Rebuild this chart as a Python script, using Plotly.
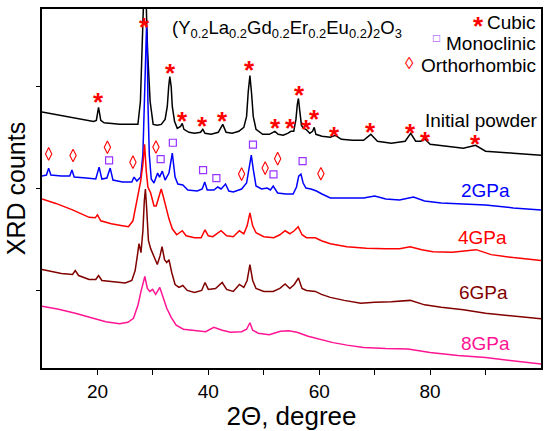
import plotly.graph_objects as go

# XRD patterns of (Y0.2La0.2Gd0.2Er0.2Eu0.2)2O3 after compression
# 2-theta in degrees, counts in arbitrary units (curves stacked with offsets)
initial_x = [10.0, 14.5, 19.3, 19.8, 20.2, 20.6, 21.2, 24.0, 26.5, 27.3,
             27.75, 28.1, 28.35, 28.55, 28.8, 29.05, 29.5, 30.05, 30.8, 31.5,
             32.2, 32.6, 32.85, 33.05, 33.3, 33.5, 33.9, 34.4, 35.0, 35.3,
             35.6, 36.5, 37.5, 38.6, 39.0, 39.4, 40.5, 41.8, 42.6, 43.2,
             44.3, 45.5, 46.4, 46.9, 47.2, 47.5, 47.8, 48.1, 48.6, 49.8,
             51.0, 52.0, 52.6, 53.5, 54.3, 54.9, 55.4, 55.8, 56.05, 56.25,
             56.5, 56.8, 57.2, 57.6, 58.3, 58.8, 59.1, 59.4, 60.5, 62.0,
             62.9, 64.0, 66.0, 68.0, 69.3, 70.5, 73.0, 75.5, 76.5, 77.4,
             78.3, 79.1, 80.0, 83.0, 86.0, 88.2, 90.0, 95.0, 100.0]
initial_y = [2575, 2530, 2480, 2490, 2620, 2490, 2465, 2450, 2450, 2450,
             2680, 3180, 3650, 4100, 3650, 3180, 2680, 2450, 2440, 2450,
             2500, 2630, 2830, 2930, 2830, 2630, 2480, 2410, 2430, 2460,
             2400, 2370, 2360, 2370, 2400, 2360, 2350, 2370, 2450, 2370,
             2360, 2380, 2420, 2530, 2780, 2940, 2760, 2530, 2400, 2350,
             2350, 2380, 2350, 2340, 2360, 2380, 2380, 2500, 2650, 2710,
             2580, 2440, 2410, 2400, 2360, 2380, 2420, 2350, 2330, 2320,
             2340, 2300, 2290, 2290, 2350, 2280, 2260, 2280, 2360, 2280,
             2280, 2300, 2250, 2230, 2210, 2240, 2180, 2160, 2140]

gpa2_x = [10.0, 10.8, 11.2, 11.6, 13.5, 15.0, 15.4, 15.8, 18.0, 19.7,
          20.3, 20.8, 21.7, 22.3, 22.8, 24.5, 26.2, 26.6, 27.1, 27.8,
          28.2, 28.45, 28.7, 28.85, 29.0, 29.1, 29.35, 29.7, 30.2, 30.85,
          31.2, 31.7, 32.2, 32.9, 33.5, 34.0, 34.5, 35.4, 36.3, 38.0,
          38.9, 39.35, 39.8, 41.0, 41.7, 42.3, 43.1, 43.7, 44.5, 46.0,
          46.9, 47.4, 47.75, 48.1, 48.6, 49.6, 50.6, 51.2, 51.7, 52.5,
          54.0, 55.3, 55.9, 56.3, 56.7, 57.1, 57.6, 58.5, 59.5, 60.5,
          62.0, 65.0, 68.0, 70.0, 72.0, 74.5, 77.0, 79.0, 82.0, 86.0,
          90.0, 95.0, 100.0]
gpa2_y = [1930, 1940, 2010, 1940, 1930, 1930, 1990, 1920, 1910, 1900,
          2020, 1900, 1910, 2010, 1890, 1870, 1870, 1920, 1880, 1920,
          2150, 2680, 3200, 3430, 3200, 2680, 2150, 1900, 1860, 1960,
          1920, 1980, 1890, 1960, 2160, 1920, 1850, 1840, 1790, 1780,
          1800, 1870, 1790, 1790, 1820, 1800, 1850, 1780, 1770, 1800,
          1860, 2030, 2140, 2000, 1830, 1800, 1810, 1790, 1830, 1760,
          1750, 1750, 1820, 1930, 1950, 1860, 1810, 1800, 1780, 1750,
          1710, 1710, 1710, 1730, 1700, 1690, 1720, 1680, 1660, 1650,
          1640, 1610, 1590]

gpa4_x = [10.0, 12.5, 15.5, 18.5, 19.6, 20.0, 20.6, 22.5, 24.5, 25.6,
          26.4, 26.9, 27.4, 27.8, 28.2, 28.5, 28.8, 29.1, 29.6, 30.2,
          30.6, 31.1, 31.5, 31.9, 32.4, 32.9, 33.5, 34.3, 35.3, 36.0,
          37.5, 38.7, 39.4, 40.0, 40.8, 42.3, 43.3, 44.5, 45.6, 46.4,
          47.0, 47.5, 48.0, 48.6, 50.0, 51.8, 52.9, 53.85, 54.7, 55.5,
          56.2, 56.9, 57.7, 59.3, 60.4, 62.0, 65.0, 68.5, 72.0, 74.5,
          76.4, 78.5, 80.5, 84.0, 88.3, 91.0, 95.0, 100.0]
gpa4_y = [1700, 1655, 1590, 1515, 1510, 1540, 1480, 1450, 1430, 1420,
          1480, 1630, 1750, 1880, 2050, 2250, 1980, 1820, 1760, 1630,
          1630, 1740, 1800, 1720, 1600, 1500, 1400, 1340, 1380, 1330,
          1310, 1310, 1390, 1330, 1320, 1380, 1330, 1320, 1380, 1350,
          1430, 1560, 1430, 1360, 1320, 1310, 1340, 1380, 1350, 1380,
          1420, 1340, 1310, 1310, 1280, 1250, 1220, 1205, 1200, 1200,
          1220, 1190, 1170, 1165, 1190, 1140, 1110, 1080]

gpa6_x = [10.0, 13.5, 15.5, 16.0, 16.6, 18.5, 19.7, 20.2, 20.8, 23.0,
          25.0, 26.2, 26.8, 27.2, 27.5, 27.85, 28.2, 28.45, 28.65, 28.85,
          29.2, 29.6, 30.4, 30.8, 31.3, 31.65, 32.1, 32.5, 32.9, 33.4,
          34.0, 34.7, 35.4, 36.2, 37.5, 38.8, 39.4, 40.0, 41.3, 42.5,
          43.3, 44.5, 45.6, 46.4, 47.0, 47.5, 48.0, 48.6, 50.0, 51.7,
          52.9, 53.85, 54.7, 55.5, 56.25, 56.9, 57.7, 59.3, 60.4, 62.0,
          64.5, 67.5, 70.0, 73.0, 76.4, 79.0, 82.0, 86.0, 90.0, 95.0, 100.0]
gpa6_y = [990, 950, 940, 980, 930, 890, 890, 930, 880, 870,
          855, 880, 980, 1130, 1250, 1160, 1380, 1680, 1800, 1630,
          1280, 1200, 1080, 1040, 1130, 1220, 1090, 1060, 1090, 960,
          840, 810, 830, 780, 760, 780, 860, 790, 800, 860,
          790, 770, 840, 810, 880, 1040, 880, 800, 770, 770,
          800, 845, 800, 840, 905, 800, 780, 770, 740, 710,
          680, 650, 660, 665, 680, 635, 610, 585, 550, 520, 495]

gpa8_x = [10.0, 13.0, 16.0, 19.0, 21.5, 24.0, 25.5, 26.5, 27.3, 27.9,
          28.55, 29.0, 29.45, 29.95, 30.5, 31.25, 31.8, 32.5, 33.3, 34.2,
          35.5, 37.5, 39.5, 41.0, 42.5, 44.0, 46.0, 46.9, 47.5, 48.0,
          49.0, 51.0, 53.0, 54.5, 56.0, 58.0, 60.0, 62.5, 65.0, 68.0,
          72.0, 76.0, 80.0, 85.0, 90.0, 95.0, 100.0]
gpa8_y = [620, 590, 550, 500, 465, 445, 460, 500, 630, 780,
          920, 800, 770, 790, 740, 810, 710, 600, 510, 430,
          390, 375, 365, 410, 380, 360, 365, 390, 455, 380,
          350, 335, 370, 375, 360, 320, 290, 255, 230, 205,
          195, 190, 155, 125, 105, 75, 40]

# phase markers
cubic_x = [20.2, 28.55, 33.2, 35.3, 38.9, 42.6, 47.5, 52.2, 54.75, 56.5,
           57.7, 59.2, 62.8, 69.3, 76.5, 79.1, 88.2]
cubic_y = [2707, 3463, 2997, 2513, 2463, 2513, 3030, 2440, 2440, 2773,
           2430, 2530, 2363, 2407, 2397, 2313, 2280]
mono_x = [22.1, 31.4, 33.6, 39.05, 41.45, 48.05, 51.75, 57.0]
mono_y = [2087, 2100, 2265, 1990, 1910, 2247, 1947, 2080]
ortho_x = [11.2, 15.6, 21.8, 26.4, 30.55, 46.0, 50.25, 52.5, 60.3]
ortho_y = [2153, 2137, 2220, 2070, 2223, 1950, 2010, 2105, 1953]

series_names = ["Initial powder", "2GPa", "4GPa", "6GPa", "8GPa"]

FONT = "Liberation Sans, Arial, sans-serif"
RED = "#FF0000"
VIOLET = "#9933FF"

series = [
    (initial_x, initial_y, "#000000"),
    (gpa2_x, gpa2_y, "#0000FF"),
    (gpa4_x, gpa4_y, "#FF0000"),
    (gpa6_x, gpa6_y, "#800000"),
    (gpa8_x, gpa8_y, "#FF1493"),
]
for (xs, ys, _), nm in zip(series, series_names):
    assert len(xs) == len(ys), nm

fig = go.Figure()
for (xs, ys, col), nm in zip(series, series_names):
    fig.add_trace(go.Scatter(x=xs, y=ys, mode="lines", name=nm,
                             line=dict(color=col, width=1.5)))

fig.add_trace(go.Scatter(
    x=mono_x, y=mono_y, mode="markers", name="Monoclinic",
    marker=dict(symbol="square-open", size=7, color=VIOLET, line=dict(width=1.2)),
))
fig.add_trace(go.Scatter(
    x=ortho_x, y=ortho_y, mode="markers", name="Orthorhombic",
    marker=dict(symbol="diamond-tall-open", size=9, color=RED, line=dict(width=1.1)),
))


def note(**kw):
    # always centre unless told otherwise (paper refs otherwise auto-anchor to edges)
    kw.setdefault("xanchor", "center")
    kw.setdefault("yanchor", "middle")
    fig.add_annotation(showarrow=False, **kw)


# cubic peaks: red asterisks (glyph sits high in its box -> shift down)
for cx, cy in zip(cubic_x, cubic_y):
    note(x=cx, y=cy, text="<b>*</b>", yshift=-3,
         font=dict(family=FONT, size=26, color=RED))

# curve labels
label_pos = [(89.25, 2487), (90.0, 1780), (89.5, 1313), (89.7, 757), (89.9, 247)]
for (lx, ly), nm, (_, _, col) in zip(label_pos, series_names, series):
    note(x=lx, y=ly, text=nm, font=dict(family=FONT, size=19, color=col))

# formula
note(xref="paper", yref="paper", x=0.491, y=0.945,
     text="(Y<sub>0.2</sub>La<sub>0.2</sub>Gd<sub>0.2</sub>Er<sub>0.2</sub>"
          "Eu<sub>0.2</sub>)<sub>2</sub>O<sub>3</sub>",
     font=dict(family=FONT, size=18.5, color="black"))

# phase key, top right
key = [("Cubic", 0.962), ("Monoclinic", 0.904), ("Orthorhombic", 0.844)]
for txt, ky in key:
    note(xref="paper", yref="paper", x=0.993, y=ky, xanchor="right", text=txt,
         font=dict(family=FONT, size=19, color="black"))
note(xref="paper", yref="paper", x=0.875, y=0.962, yshift=-3, text="<b>*</b>",
     font=dict(family=FONT, size=26, color=RED))
note(xref="paper", yref="paper", x=0.7914, y=0.9067, yshift=4, text="\u25a1",
     font=dict(family=FONT, size=12, color=VIOLET))
note(xref="paper", yref="paper", x=0.7374, y=0.842, yshift=2, text="\u25ca",
     font=dict(family=FONT, size=17, color=RED))

fig.update_layout(
    width=550, height=431,
    margin=dict(l=42, r=8, t=7, b=63),
    plot_bgcolor="white", paper_bgcolor="white",
    showlegend=False,
    font=dict(family=FONT, color="black"),
    xaxis=dict(
        range=[10, 100], tickvals=[20, 40, 60, 80],
        ticks="outside", ticklen=5, tickwidth=1.2, tickcolor="black",
        minor=dict(tickvals=[30, 50, 70, 90], ticks="outside", ticklen=5,
                   tickwidth=1.2, tickcolor="black"),
        showline=True, mirror=True, linewidth=1.5, linecolor="black",
        showgrid=False, zeroline=False,
        tickfont=dict(size=19),
        title=dict(text="2\u0398, degree", font=dict(size=26), standoff=2),
    ),
    yaxis=dict(
        range=[0, 3610], tickvals=[780, 1805, 2830], showticklabels=False,
        ticks="outside", ticklen=4, tickwidth=1.2, tickcolor="black",
        showline=True, mirror=True, linewidth=1.5, linecolor="black",
        showgrid=False, zeroline=False,
        title=dict(text="XRD counts", font=dict(size=25), standoff=4),
    ),
)

# page body has a default 8px margin; drop it so the chart sits at the corner
fig.write_html("out.html", config={"displayModeBar": False},
               post_script="document.body.style.margin = '0';")
